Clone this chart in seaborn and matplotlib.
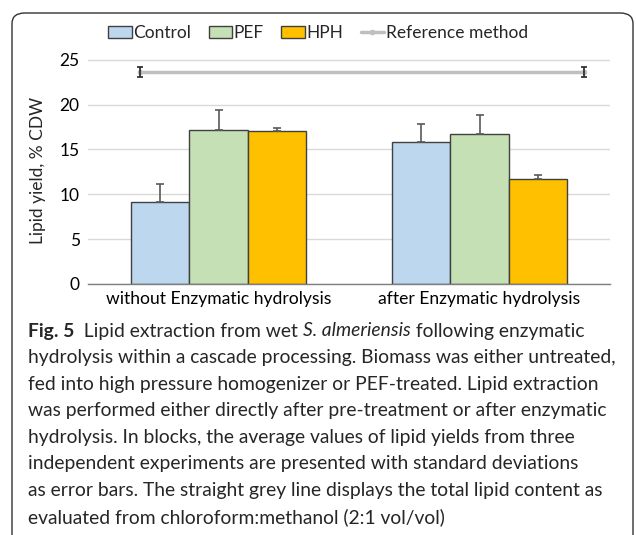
import pandas as pd
import seaborn as sns
from matplotlib import pyplot as plt
from matplotlib.patches import FancyBboxPatch
from matplotlib.lines import Line2D
from matplotlib.patches import Patch

# data
conditions = ["without Enzymatic hydrolysis", "after Enzymatic hydrolysis"]
treatments = ["Control", "PEF", "HPH"]
control_mean = [9.15, 15.88]
pef_mean = [17.13, 16.69]
hph_mean = [17.06, 11.73]
control_sd = [2.05, 1.95]
pef_sd = [2.3, 2.13]
hph_sd = [0.3, 0.37]
ref_value = [23.64, 23.64]
ref_sd = [0.59, 0.59]
ref_pos = [-0.3, 1.4]
yticks = [0, 5, 10, 15, 20, 25]

colors = {"Control": "#BDD7EE", "PEF": "#C5E0B4", "HPH": "#FFC000"}

means = {"Control": control_mean, "PEF": pef_mean, "HPH": hph_mean}
sds = {"Control": control_sd, "PEF": pef_sd, "HPH": hph_sd}
rows = []
for t in treatments:
    for i, c in enumerate(conditions):
        rows.append({"condition": c, "treatment": t, "value": means[t][i], "sd": sds[t][i]})
df = pd.DataFrame(rows)

sns.set_theme(style="white")
plt.rcParams["font.family"] = ["Lato", "DejaVu Sans"]

fig = plt.figure(figsize=(6.36, 5.35), dpi=100)
ax = fig.add_axes([88 / 636, 1 - 284 / 535, 522 / 636, 227 / 535])

sns.barplot(
    data=df, x="condition", y="value", hue="treatment",
    order=conditions, hue_order=treatments, palette=colors, saturation=1,
    width=0.667, gap=0, edgecolor="#404040", linewidth=1.0,
    errorbar=None, legend=False, ax=ax, zorder=2,
)

# upward-only error bars on the bars
for t, cont in zip(treatments, ax.containers):
    xs = [p.get_x() + p.get_width() / 2 for p in cont.patches]
    ax.errorbar(xs, means[t], yerr=[[0, 0], sds[t]], fmt="none",
                ecolor="#595959", elinewidth=1.2, capsize=3, capthick=1.2, zorder=3)

# reference method line
ax.plot(ref_pos, ref_value, color="#BFBFBF", lw=2.5, marker="o", ms=3, zorder=3)
ax.errorbar(ref_pos, ref_value, yerr=ref_sd, fmt="none", ecolor="#262626",
            elinewidth=1.2, capsize=2.5, capthick=1.2, zorder=4)

ax.set_xlim(-0.5, 1.5)
ax.set_yticks(yticks)
ax.yaxis.grid(True, color="#D9D9D9", lw=1)
ax.set_axisbelow(True)
for s in ["left", "right", "top"]:
    ax.spines[s].set_visible(False)
ax.spines["bottom"].set_color("#7F7F7F")
ax.spines["bottom"].set_linewidth(1)
ax.tick_params(axis="y", length=0, labelsize=12.5, colors="#000000", pad=6)
ax.tick_params(axis="x", length=0, labelsize=12.6, colors="#000000", pad=5)
ax.set_xlabel("")
ax.set_ylabel("Lipid yield, % CDW", fontsize=12.5, labelpad=10)
ax.set_ylim(0, 25.3)

handles = [Patch(facecolor=colors[t], edgecolor="#404040", label=t) for t in treatments]
handles.append(Line2D([0], [0], color="#BFBFBF", lw=2.5, marker="o", ms=3,
                      label="Reference method"))
fig.legend(handles=handles, loc="center", bbox_to_anchor=(318 / 636, 1 - 33 / 535),
           ncol=4, frameon=False, fontsize=12.5, handlelength=1.35, handleheight=0.75,
           handletextpad=0.1, columnspacing=1.0, borderaxespad=0)

# rounded frame around figure and caption
frame = FancyBboxPatch((12 / 636, -0.05), 621 / 636, 1 - 13 / 535 + 0.05,
                       boxstyle="round,pad=0,rounding_size=0.02",
                       transform=fig.transFigure, fill=False,
                       edgecolor="#333333", lw=1.0, clip_on=False)
fig.add_artist(frame)

# caption
renderer = fig.canvas.get_renderer()
cap_size = 13.85
x0 = 28 / 636
y_first = 1 - 331 / 535
line_step = 26.6 / 535

runs = [
    ("Fig. 5", {"weight": "bold"}),
    ("  Lipid extraction from wet ", {}),
    ("S. almeriensis", {"style": "italic"}),
    (" following enzymatic", {}),
]
x = x0
for s, kw in runs:
    t = fig.text(x, y_first, s, fontsize=cap_size, va="center", ha="left", **kw)
    bb = t.get_window_extent(renderer)
    x += bb.width / fig.bbox.width

caption_lines = [
    "hydrolysis within a cascade processing. Biomass was either untreated,",
    "fed into high pressure homogenizer or PEF-treated. Lipid extraction",
    "was performed either directly after pre-treatment or after enzymatic",
    "hydrolysis. In blocks, the average values of lipid yields from three",
    "independent experiments are presented with standard deviations",
    "as error bars. The straight grey line displays the total lipid content as",
    "evaluated from chloroform:methanol (2:1 vol/vol)",
]
for i, line in enumerate(caption_lines):
    fig.text(x0, y_first - (i + 1) * line_step, line, fontsize=cap_size,
             va="center", ha="left")

fig.savefig("out.png", dpi=100)
